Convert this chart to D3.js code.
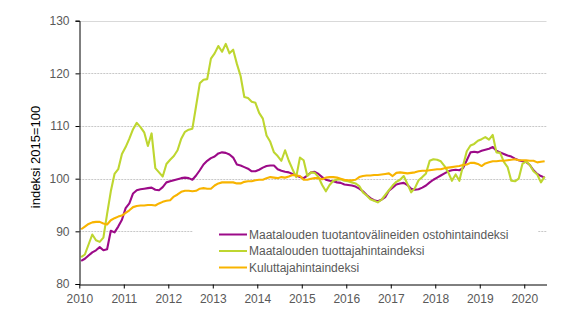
<!DOCTYPE html>
<html>
<head>
<meta charset="utf-8">
<script src="https://cdn.jsdelivr.net/npm/d3@7"></script>
<style>
  body { margin: 0; background: #fff; }
  svg { display: block; font-family: "Liberation Sans", Arial, sans-serif; }
</style>
</head>
<body>
<svg width="574" height="324"></svg>
<script>
// monthly index values, Jan 2010 - Jun 2020 (2015=100)
const years = [2010, 2011, 2012, 2013, 2014, 2015, 2016, 2017, 2018, 2019, 2020];
const yTicks = [80, 90, 100, 110, 120, 130];

const ostohinta = [
  84.4, 84.8, 85.4, 86.0, 86.4, 87.0, 86.4, 86.6, 90.1, 89.8, 90.9, 92.2,
  94.4, 95.3, 97.2, 97.8, 98.0, 98.1, 98.2, 98.3, 97.9, 97.8, 98.4, 99.3,
  99.5, 99.7, 99.9, 100.1, 100.2, 100.1, 99.8, 100.6, 101.6, 102.7, 103.4, 103.9,
  104.2, 104.8, 105.0, 104.9, 104.6, 104.0, 102.7, 102.5, 102.2, 101.9, 101.4, 101.4,
  101.7, 102.1, 102.4, 102.5, 102.5, 101.8, 101.5, 101.3, 101.2, 100.9, 100.6, 100.3,
  100.1, 100.6, 101.2, 101.3, 100.9, 100.3, 99.8, 99.6, 99.5, 99.3, 99.2, 98.9,
  98.8, 98.7, 98.5, 98.1, 97.6, 96.9, 96.3, 95.9, 95.7, 96.0, 96.5, 97.7,
  98.3, 98.9, 99.1, 99.2, 98.8, 98.1, 97.9, 98.0, 98.3, 98.7, 99.3, 99.8,
  100.2, 100.6, 101.0, 101.4, 101.6, 101.7, 101.6, 102.0, 103.5, 105.0, 105.1, 105.0,
  105.3, 105.5, 105.7, 106.0, 105.3, 105.0, 104.7, 104.4, 104.2, 103.8, 103.5, 103.3,
  103.2, 102.6, 101.6, 100.9, 100.5, 100.2
];

const tuottajahinta = [
  85.1, 85.6, 87.5, 89.4, 88.3, 88.0, 88.8, 93.3, 97.6, 100.9, 101.8, 104.7,
  106.0, 107.6, 109.4, 110.6, 109.8, 108.8, 106.2, 108.6, 102.0, 101.2, 100.4, 102.8,
  103.6, 104.3, 105.4, 107.6, 108.9, 109.3, 109.5, 113.8, 118.1, 118.8, 118.9, 122.8,
  123.8, 125.2, 124.1, 125.6, 123.8, 124.5, 121.8, 119.5, 115.5, 115.3, 114.6, 114.4,
  112.5, 111.4, 108.2, 107.0, 105.0, 104.3, 103.4, 105.4, 103.4, 101.8, 100.3, 104.0,
  103.5, 100.5, 101.2, 101.1, 100.3, 98.8, 97.6, 98.8, 99.6, 99.8, 99.9, 99.6,
  99.5, 99.3, 99.1, 98.6, 97.4, 96.8, 96.1, 95.8, 95.5, 96.0, 96.9, 97.8,
  98.7, 99.4, 99.8, 100.5, 99.0, 97.4, 98.2, 99.7, 100.3, 101.0, 103.4, 103.7,
  103.6, 103.3, 102.4, 101.2, 99.6, 100.8, 99.6, 102.5, 105.2, 106.3, 106.6, 107.2,
  107.5, 107.9, 107.4, 108.3, 105.0, 104.9, 103.2, 102.2, 99.6, 99.5, 100.0, 102.8,
  103.3, 102.6, 101.4, 100.8, 99.3, 100.4
];

const kuluttajahinta = [
  90.4, 90.9, 91.4, 91.7, 91.8, 91.8, 91.5, 91.3, 92.1, 92.5, 92.8, 93.0,
  93.5, 94.0, 94.6, 94.8, 94.9, 94.9, 95.0, 95.0, 94.9, 95.3, 95.6, 95.8,
  95.9, 96.6, 97.0, 97.5, 97.7, 97.7, 97.6, 97.7, 98.1, 98.2, 98.1, 98.1,
  98.7, 99.1, 99.3, 99.3, 99.3, 99.3, 99.1, 99.1, 99.4, 99.5, 99.5, 99.7,
  99.8, 99.8, 100.1, 100.3, 100.2, 100.1, 100.3, 100.2, 100.4, 100.7, 100.6, 100.5,
  99.8, 99.8, 100.0, 100.1, 100.1, 99.9, 100.2, 100.3, 100.3, 100.2, 100.0, 99.8,
  99.7, 99.7, 99.8, 100.3, 100.5, 100.6, 100.6, 100.7, 100.7, 100.8, 100.9, 101.0,
  100.5, 101.1, 101.2, 101.1, 101.0, 101.1, 101.2, 101.4, 101.5, 101.5, 101.6, 101.7,
  101.8, 101.8, 102.0, 102.1, 102.2, 102.3, 102.4, 102.6, 102.7, 103.0, 103.0, 102.8,
  102.4, 102.9, 103.1, 103.3, 103.3, 103.4, 103.4, 103.5, 103.6, 103.7, 103.5, 103.5,
  103.5, 103.4, 103.4, 103.1, 103.2, 103.3
];

const series = [
  { name: "Maatalouden tuotantovälineiden ostohintaindeksi", values: ostohinta, color: "#9c0a88" },
  { name: "Maatalouden tuottajahintaindeksi", values: tuottajahinta, color: "#bed630" },
  { name: "Kuluttajahintaindeksi", values: kuluttajahinta, color: "#f8b400" }
];

const svg = d3.select("svg");
const nMonths = 126;

// category-style month axis: each point sits in the middle of its month slot
const x = d3.scaleLinear().domain([0, nMonths]).range([79.3, 546.5]);
const y = d3.scaleLinear().domain([80, 130]).range([284, 20.7]);

// gridlines
svg.append("g")
  .selectAll("line")
  .data(yTicks.filter(t => t > 80))
  .enter()
  .append("line")
  .attr("x1", x(0))
  .attr("x2", x(nMonths))
  .attr("y1", d => Math.round(y(d)) + 0.5)
  .attr("y2", d => Math.round(y(d)) + 0.5)
  .attr("stroke", d => d === 130 ? "#d9d9d9" : "#c8c8c8")
  .attr("stroke-dasharray", d => d === 130 ? null : "2,1");

// lines
const line = d3.line()
  .x((d, i) => x(i + 0.5))
  .y(d => y(d));

svg.append("g")
  .selectAll("path")
  .data(series)
  .enter()
  .append("path")
  .attr("d", d => line(d.values))
  .attr("fill", "none")
  .attr("stroke", d => d.color)
  .attr("stroke-width", 2.1)
  .attr("stroke-linejoin", "round");

// y axis
const yAxis = svg.append("g")
  .attr("transform", `translate(${Math.round(x(0)) + 0.5},0)`)
  .call(d3.axisLeft(y).tickValues(yTicks).tickSize(4).tickPadding(6));
yAxis.select(".domain").attr("stroke", "#000");
yAxis.selectAll(".tick line").attr("stroke", "#000");
yAxis.selectAll("text")
  .attr("fill", "#595959")
  .style("font-size", "12px")
  .style("font-family", "Liberation Sans, Arial, sans-serif");

// x axis, ticks at the start of each year
const xAxis = svg.append("g")
  .attr("transform", `translate(0,${Math.round(y(80)) + 0.5})`)
  .call(d3.axisBottom(x)
    .tickValues(years.map(yr => (yr - 2010) * 12))
    .tickFormat((d, i) => years[i])
    .tickSize(4)
    .tickPadding(6)
    .tickSizeOuter(0));
xAxis.select(".domain").attr("stroke", "#000");
xAxis.selectAll(".tick line").attr("stroke", "#000");
xAxis.selectAll("text")
  .attr("fill", "#595959")
  .style("font-size", "12px")
  .style("font-family", "Liberation Sans, Arial, sans-serif");

// y title
svg.append("text")
  .attr("transform", "translate(40,157) rotate(-90)")
  .attr("text-anchor", "middle")
  .attr("fill", "#000")
  .style("font-size", "13px")
  .text("indeksi 2015=100");

// legend
const legend = svg.append("g");
legend.append("rect")
  .attr("x", 193)
  .attr("y", 224)
  .attr("width", 345)
  .attr("height", 52)
  .attr("fill", "#fff");

const item = legend.selectAll(".item")
  .data(series)
  .enter()
  .append("g")
  .attr("class", "item")
  .attr("transform", (d, i) => `translate(219,${234.5 + i * 16.5})`);

item.append("line")
  .attr("x1", 0)
  .attr("x2", 28)
  .attr("stroke", d => d.color)
  .attr("stroke-width", 2);

item.append("text")
  .attr("x", 30)
  .attr("dy", "0.35em")
  .attr("fill", "#595959")
  .style("font-size", "12px")
  .text(d => d.name);
</script>
</body>
</html>
